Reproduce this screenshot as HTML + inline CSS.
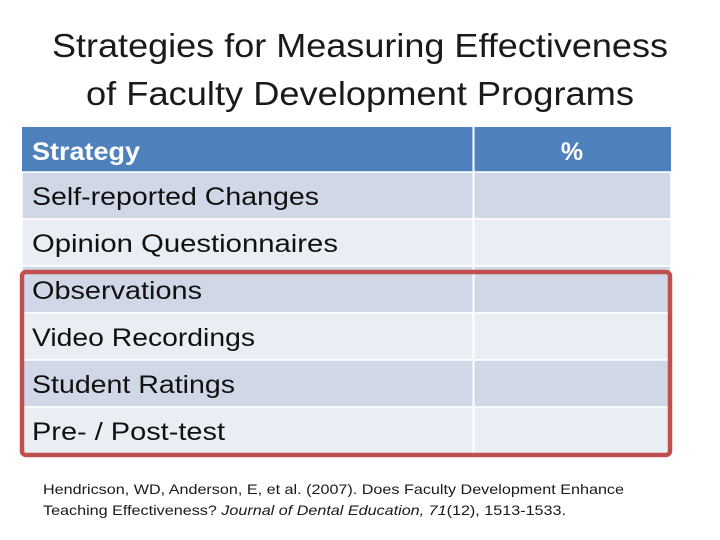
<!DOCTYPE html>
<html><head><meta charset="utf-8"><style>
html,body{margin:0;padding:0;background:#fff;}
svg{display:block;font-family:"Liberation Sans",sans-serif;}
</style></head><body>
<svg width="720" height="540" viewBox="0 0 720 540">
<g>
<text x="360" y="57" text-anchor="middle" font-size="33" fill="#1a1a1a" textLength="616" lengthAdjust="spacingAndGlyphs">Strategies for Measuring Effectiveness</text>
<text x="360" y="105" text-anchor="middle" font-size="33" fill="#1a1a1a" textLength="548" lengthAdjust="spacingAndGlyphs">of Faculty Development Programs</text>
</g>
<g>
<rect x="22" y="127" width="649" height="45" fill="#4f81bd"/>
<text x="32" y="160" font-size="25" font-weight="bold" fill="#fff" textLength="108" lengthAdjust="spacingAndGlyphs">Strategy</text>
<text x="572" y="160" font-size="25" font-weight="bold" fill="#fff" text-anchor="middle">%</text>
<g id="rows"></g>
<line x1="473.5" y1="127" x2="473.5" y2="454" stroke="#fff" stroke-width="2"/>
</g>
<rect x="22" y="272" width="648" height="183" rx="4" fill="none" stroke="#c0504d" stroke-width="4.5"/>
<g font-size="14" fill="#1a1a1a">
<text x="43" y="494" textLength="581" lengthAdjust="spacingAndGlyphs">Hendricson, WD, Anderson, E, et al. (2007). Does Faculty Development Enhance</text>
<text x="43" y="515" textLength="523" lengthAdjust="spacingAndGlyphs">Teaching Effectiveness? <tspan font-style="italic">Journal of Dental Education, 71</tspan>(12), 1513-1533.</text>
</g>
</svg>
<script>
const strategies=["Self-reported Changes","Opinion Questionnaires","Observations","Video Recordings","Student Ratings","Pre- / Post-test"];
const widths=[287,306,170,223,203,193];
const g=document.getElementById('rows');
const NS="http://www.w3.org/2000/svg";
strategies.forEach((s,i)=>{
  const y=172+i*47;
  const r=document.createElementNS(NS,'rect');
  
  
  r.setAttribute('x',22);r.setAttribute('y',y);r.setAttribute('width',649);r.setAttribute('height',47);
  r.setAttribute('fill',i%2===0?'#d0d8e8':'#e9edf4');
  r.setAttribute('stroke','#fff');r.setAttribute('stroke-width','1.5');
  g.appendChild(r);
  const t=document.createElementNS(NS,'text');
  
  
  t.setAttribute('x',32);t.setAttribute('y',y+33);
  t.setAttribute('font-size','25');t.setAttribute('fill','#111');
  t.setAttribute('textLength',widths[i]);t.setAttribute('lengthAdjust','spacingAndGlyphs');
  t.textContent=s;
  g.appendChild(t);
});
</script>
</body></html>
